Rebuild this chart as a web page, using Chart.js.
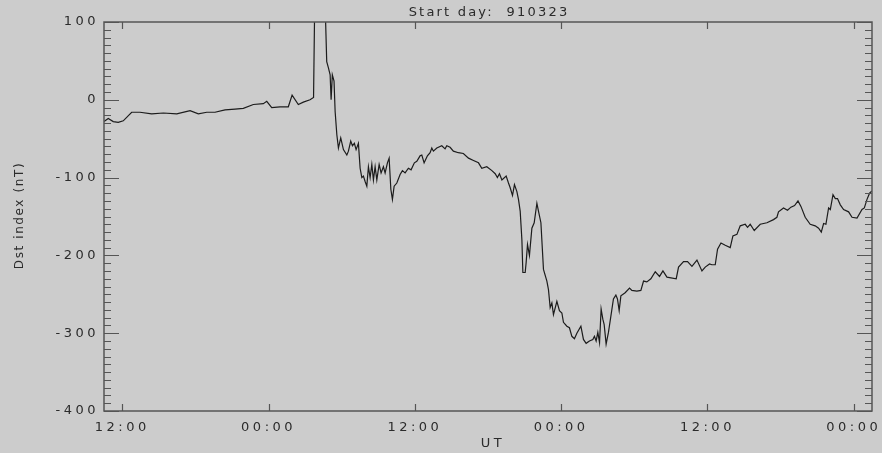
<!DOCTYPE html>
<html>
<head>
<meta charset="utf-8">
<script src="https://cdn.jsdelivr.net/npm/chart.js@4/dist/chart.umd.min.js"></script>
<style>
  html, body { margin: 0; padding: 0; background: #cccccc; }
  #wrap { width: 882px; height: 453px; }
</style>
</head>
<body>
<div id="wrap"><canvas id="c" width="882" height="453"></canvas></div>
<script>
// ---- data (hours since 1991-03-23 00:00 UT, Dst in nT) ----
const titleText = "Start day:  910323";
const yTitle = "Dst index (nT)";
const xTitle = "UT";

const hours = [10.5,10.85,11.26,11.67,12.08,12.77,13.45,14.41,15.37,16.47,17.56,18.24,18.93,19.61,20.43,21.25,21.93,22.75,23.57,23.85,24.26,24.94,25.62,25.93,26.44,26.85,27.40,
  27.69,27.77,27.90,28.22,28.59,28.68,28.77,28.91,29.05,29.13,29.23,29.37,29.46,29.60,29.73,29.92,30.14,30.42,30.55,30.74,30.88,31.04,31.18,31.37,31.51,31.65,31.78,31.92,32.06,
  32.19,32.33,32.47,32.60,32.74,32.88,33.07,33.23,33.42,33.56,33.75,33.89,34.03,34.16,34.30,34.52,34.79,34.98,35.20,35.47,35.69,35.96,36.16,36.43,36.57,36.76,37.03,37.25,37.39,
  37.52,37.80,38.21,38.48,38.62,38.89,39.16,39.57,39.98,40.40,40.81,41.22,41.49,41.90,42.32,42.59,42.77,42.94,43.14,43.49,43.68,43.82,44.01,44.17,44.37,44.50,44.64,44.78,44.86,
  45.05,45.13,45.24,45.40,45.60,45.79,46.01,46.14,46.34,46.55,46.83,46.96,47.10,47.24,47.37,47.65,47.86,48.06,48.19,48.47,48.68,48.88,49.09,49.29,49.62,49.83,50.05,50.32,50.60,
  50.73,50.87,51.01,51.15,51.28,51.42,51.53,51.69,51.88,52.08,52.29,52.49,52.62,52.76,52.90,53.25,53.61,53.80,54.21,54.54,54.76,55.03,55.36,55.72,56.07,56.35,56.68,57.44,57.63,
  58.04,58.37,58.73,59.14,59.55,59.82,60.17,60.37,60.64,60.83,61.11,61.46,61.87,62.09,62.42,62.69,63.10,63.29,63.51,63.84,64.33,64.88,65.42,65.70,65.83,66.24,66.57,66.85,67.15,
  67.43,67.67,68.02,68.43,68.84,69.12,69.34,69.53,69.72,69.94,70.08,70.30,70.49,70.67,70.90,71.17,71.58,71.86,72.27,72.68,72.87,73.09,73.30,73.50];

const dst = [-28,-24,-28,-29,-27,-16,-16,-18,-17,-18,-14,-18,-16,-16,-13,-12,-11,-6,-5,-2,-10,-9,-9,6,-6,-3,0,
  3,105,125,130,115,100,49,41,32,0,32,24,-15,-45,-62,-49,-64,-71,-66,-53,-59,-56,-64,-56,-88,-100,-98,-105,-111,
  -86,-100,-83,-103,-86,-103,-83,-94,-86,-94,-81,-75,-115,-128,-111,-107,-96,-91,-94,-88,-90,-81,-79,-72,-71,-81,-72,-68,-62,
  -66,-62,-59,-63,-59,-61,-66,-68,-69,-75,-78,-81,-88,-86,-91,-95,-100,-95,-103,-98,-107,-113,-123,-109,-118,-128,-143,-180,-222,
  -222,-209,-186,-200,-165,-158,-133,-143,-158,-218,-233,-244,-267,-261,-276,-259,-271,-274,-286,-291,-293,-304,-307,-300,-291,-308,-313,-310,-308,
  -304,-310,-299,-312,-269,-282,-289,-314,-299,-278,-256,-251,-256,-271,-252,-248,-242,-245,-246,-245,-233,-234,-230,-221,-227,-220,-228,-230,-215,
  -208,-208,-214,-206,-220,-215,-211,-212,-212,-192,-184,-187,-190,-175,-173,-162,-160,-164,-160,-168,-160,-158,-154,-151,-144,-139,-142,-138,-136,
  -130,-137,-151,-160,-162,-165,-170,-159,-160,-139,-141,-122,-127,-127,-135,-141,-144,-151,-152,-141,-139,-128,-120,-117];

const xTickHours = [12, 24, 36, 48, 60, 72];
const xTickLabels = ["12:00", "00:00", "12:00", "00:00", "12:00", "00:00"];
const xRange = [10.5, 73.5];
const yRange = [-400, 100];
const yMajorStep = 100;
const yMinorStep = 10;

// ---- build ----
const n = Math.min(hours.length, dst.length);
const points = [];
for (let i = 0; i < n; i++) points.push({ x: hours[i], y: dst[i] });

const isMajor = v => Math.abs(v) % yMajorStep === 0;

const FONT = "'DejaVu Sans', 'Liberation Sans', sans-serif";
const TXT = '#2b2b2b';
const AXIS = '#555555';
const tickFont = { family: FONT, size: 13 };

const spacingPlugin = {
  id: 'spacing',
  beforeLayout(c) { c.ctx.letterSpacing = '3.5px'; },
  beforeDraw(c) { c.ctx.letterSpacing = '3.5px'; }
};

// frame and inward tick marks, positioned through the chart's own scales
const framePlugin = {
  id: 'frameTicks',
  afterDraw(chart) {
    const ctx = chart.ctx;
    const a = chart.chartArea;
    const xs = chart.scales.x, ys = chart.scales.y;
    const L = Math.round(a.left), R = Math.round(a.right);
    const T = Math.round(a.top), B = Math.round(a.bottom);
    const frame = new Path2D();
    frame.rect(L, T, R - L, B - T);
    const ticks = new Path2D();
    for (let v = yRange[0]; v <= yRange[1]; v += yMinorStep) {
      const py = Math.round(ys.getPixelForValue(v)) + 0.5;
      const len = isMajor(v) ? 15 : 7;
      ticks.moveTo(L, py); ticks.lineTo(L + len, py);
      ticks.moveTo(R, py); ticks.lineTo(R - len, py);
    }
    for (const t of xTickHours) {
      const px = Math.round(xs.getPixelForValue(t)) + 0.5;
      ticks.moveTo(px, B); ticks.lineTo(px, B - 7);
      ticks.moveTo(px, T); ticks.lineTo(px, T + 7);
    }
    ctx.save();
    ctx.setLineDash([]);
    ctx.strokeStyle = AXIS;
    ctx.lineWidth = 1.5;
    ctx.stroke(frame);
    ctx.lineWidth = 1.2;
    ctx.stroke(ticks);
    ctx.restore();

    // titles
    ctx.save();
    ctx.fillStyle = TXT;
    ctx.textAlign = 'center';
    ctx.textBaseline = 'middle';
    ctx.letterSpacing = '2.2px';
    ctx.font = "13px " + FONT;
    ctx.fillText(titleText, (a.left + a.right) / 2 + 1, 13);
    ctx.letterSpacing = '3.5px';
    ctx.fillText(xTitle, (a.left + a.right) / 2 + 5, 444);
    ctx.letterSpacing = '1.6px';
    ctx.font = "12px " + FONT;
    ctx.translate(20, (a.top + a.bottom) / 2 - 1);
    ctx.rotate(-Math.PI / 2);
    ctx.fillText(yTitle, 0, 0);
    ctx.restore();
  }
};

new Chart(document.getElementById('c'), {
  type: 'line',
  data: {
    datasets: [{
      data: points,
      borderColor: '#1c1c1c',
      borderWidth: 1.2,
      pointRadius: 0,
      tension: 0,
      fill: false
    }]
  },
  options: {
    responsive: false,
    animation: false,
    events: [],
    layout: { padding: { top: 22, right: 10, left: 0, bottom: 0 } },
    plugins: { legend: { display: false }, tooltip: { enabled: false }, title: { display: false } },
    scales: {
      x: {
        type: 'linear', position: 'bottom',
        min: xRange[0], max: xRange[1],
        grid: { display: false, drawTicks: false },
        border: { display: false },
        afterBuildTicks(s) { s.ticks = xTickHours.map(v => ({ value: v })); },
        ticks: {
          autoSkip: false, maxRotation: 0, padding: 9,
          color: TXT, font: tickFont,
          callback(v) { const i = xTickHours.indexOf(v); return i >= 0 ? xTickLabels[i] : ''; }
        },
        afterFit(s) { s.height = 42; s.paddingLeft = 0; s.paddingRight = 0; }
      },
      y: {
        type: 'linear', position: 'left',
        min: yRange[0], max: yRange[1],
        grid: { display: false, drawTicks: false },
        border: { display: false },
        ticks: {
          stepSize: yMajorStep, autoSkip: false, padding: 5,
          color: TXT, font: tickFont,
          callback(v) { return String(v); }
        },
        afterFit(s) { s.width = 104; s.paddingTop = 0; s.paddingBottom = 0; }
      }
    }
  },
  plugins: [spacingPlugin, framePlugin]
});
</script>
</body>
</html>
